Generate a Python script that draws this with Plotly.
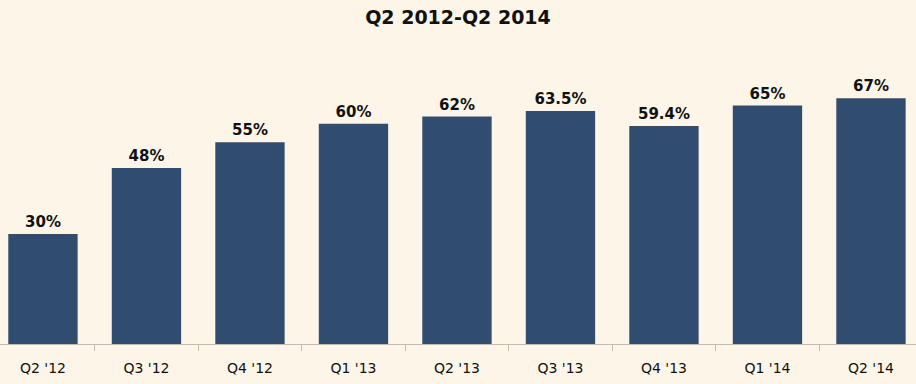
import plotly.graph_objects as go

categories = ["Q2 '12", "Q3 '12", "Q4 '12", "Q1 '13", "Q2 '13", "Q3 '13", "Q4 '13", "Q1 '14", "Q2 '14"]
values = [30, 48, 55, 60, 62, 63.5, 59.4, 65, 67]
labels = ["30%", "48%", "55%", "60%", "62%", "63.5%", "59.4%", "65%", "67%"]

bg = "#FDF6E8"
bar_color = "#304C6F"

fig = go.Figure(go.Bar(
    x=categories, y=values, text=labels,
    textposition="outside", cliponaxis=False,
    textfont=dict(family="DejaVu Sans", size=15, color="#111111", weight="bold"),
    marker=dict(color=bar_color, line=dict(width=0)),
    width=0.67,
))

fig.update_layout(
    width=916, height=384,
    paper_bgcolor=bg, plot_bgcolor=bg,
    margin=dict(l=0, r=0, t=60, b=40),
    title=dict(text="<b>Q2 2012-Q2 2014</b>", x=0.5, xanchor="center", y=0.955, yanchor="middle",
               font=dict(family="DejaVu Sans", size=19, color="#111111")),
    showlegend=False,
    bargap=0.33,
)
fig.update_xaxes(
    type="category", range=[-0.415, 8.435],
    showline=True, linecolor="#C9BBAA", linewidth=1,
    ticks="outside", tickson="boundaries", ticklen=6, tickcolor="#C9BBAA",
    ticklabelstandoff=11,
    tickfont=dict(family="DejaVu Sans", size=14, color="#111111"),
    showgrid=False,
)
fig.update_yaxes(range=[0, 77.4], visible=False, showgrid=False)

fig.write_html(
    "out.html",
    config={"displayModeBar": False},
    post_script="document.body.style.margin='0';document.body.style.background='" + bg + "';",
)
